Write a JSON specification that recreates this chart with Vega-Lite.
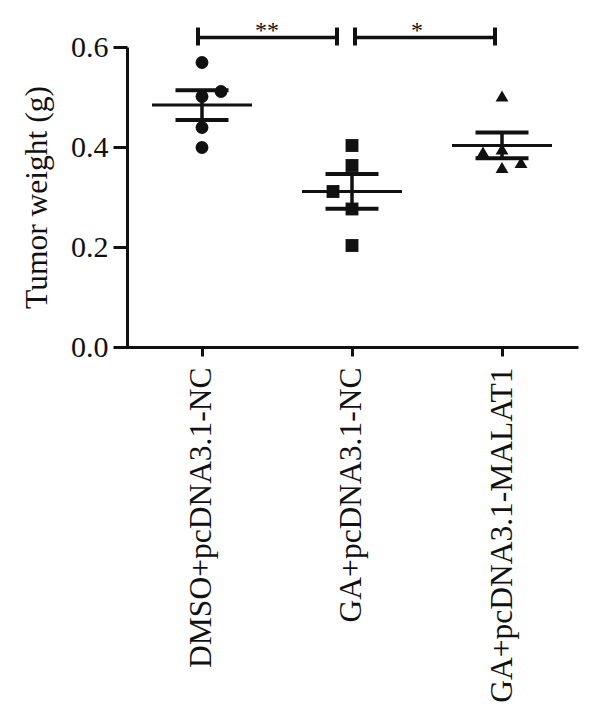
{
  "$schema": "https://vega.github.io/schema/vega-lite/v6.json",
  "width": 460,
  "height": 300,
  "autosize": {"type": "none"},
  "padding": {"left": 118, "top": 47, "right": 22, "bottom": 378},
  "background": "white",
  "config": {
    "view": {"stroke": null},
    "font": "Liberation Serif",
    "tick": {"opacity": 1},
    "axis": {
      "grid": false,
      "labelFont": "Liberation Serif",
      "titleFont": "Liberation Serif",
      "labelColor": "#111",
      "titleColor": "#111",
      "domainColor": "#111",
      "tickColor": "#111",
      "domainWidth": 3,
      "tickWidth": 3,
      "labelFontSize": 30,
      "titleFontSize": 31.5,
      "titleFontWeight": "normal",
      "labelLimit": 0
    }
  },
  "datasets": {
    "points": [
      {"group": "DMSO+pcDNA3.1-NC", "weight": 0.569, "jitter": 0},
      {"group": "DMSO+pcDNA3.1-NC", "weight": 0.511, "jitter": 1},
      {"group": "DMSO+pcDNA3.1-NC", "weight": 0.501, "jitter": 0},
      {"group": "DMSO+pcDNA3.1-NC", "weight": 0.439, "jitter": 0},
      {"group": "DMSO+pcDNA3.1-NC", "weight": 0.399, "jitter": 0},
      {"group": "GA+pcDNA3.1-NC", "weight": 0.403, "jitter": 0},
      {"group": "GA+pcDNA3.1-NC", "weight": 0.363, "jitter": 0},
      {"group": "GA+pcDNA3.1-NC", "weight": 0.311, "jitter": -1},
      {"group": "GA+pcDNA3.1-NC", "weight": 0.276, "jitter": 0},
      {"group": "GA+pcDNA3.1-NC", "weight": 0.203, "jitter": 0},
      {"group": "GA+pcDNA3.1-MALAT1", "weight": 0.502, "jitter": 0},
      {"group": "GA+pcDNA3.1-MALAT1", "weight": 0.390, "jitter": -1},
      {"group": "GA+pcDNA3.1-MALAT1", "weight": 0.396, "jitter": 0},
      {"group": "GA+pcDNA3.1-MALAT1", "weight": 0.359, "jitter": 0},
      {"group": "GA+pcDNA3.1-MALAT1", "weight": 0.369, "jitter": 1}
    ],
    "brackets": [
      {"id": 1, "from": "DMSO+pcDNA3.1-NC", "to": "GA+pcDNA3.1-NC", "label": "**", "y": 0.619, "y_lo": 0.603, "y_hi": 0.639},
      {"id": 2, "from": "GA+pcDNA3.1-NC", "to": "GA+pcDNA3.1-MALAT1", "label": "*", "y": 0.619, "y_lo": 0.603, "y_hi": 0.639}
    ]
  },
  "layer": [
    {
      "data": {"name": "points"},
      "mark": {"type": "point", "filled": true, "opacity": 1, "color": "#111", "size": 165},
      "encoding": {
        "x": {
          "field": "group", "type": "nominal", "title": null,
          "sort": ["DMSO+pcDNA3.1-NC", "GA+pcDNA3.1-NC", "GA+pcDNA3.1-MALAT1"],
          "scale": {"type": "point", "padding": 0.5333, "align": 0.525, "domain": ["DMSO+pcDNA3.1-NC", "GA+pcDNA3.1-NC", "GA+pcDNA3.1-MALAT1"]},
          "axis": {"title": null, "labelAngle": -90, "labelPadding": 11, "tickSize": 9, "labelLimit": 0, "labelFontSize": 31.5}
        },
        "xOffset": {"field": "jitter", "type": "quantitative", "scale": {"domain": [-1, 1], "range": [-19, 19]}},
        "y": {
          "field": "weight", "type": "quantitative", "title": "Tumor weight (g)",
          "scale": {"domain": [0, 0.6], "nice": false},
          "axis": {"title": "Tumor weight (g)", "values": [0, 0.2, 0.4, 0.6], "format": ".1f", "offset": -9, "tickSize": 14, "labelPadding": 5, "titlePadding": 17}
        },
        "shape": {
          "field": "group", "type": "nominal",
          "scale": {"domain": ["DMSO+pcDNA3.1-NC", "GA+pcDNA3.1-NC", "GA+pcDNA3.1-MALAT1"], "range": ["circle", "square", "triangle-up"]},
          "legend": null
        }
      }
    },
    {
      "data": {"name": "points"},
      "mark": {"type": "tick", "color": "#111", "opacity": 1, "size": 100, "thickness": 3, "orient": "horizontal"},
      "encoding": {
        "x": {"field": "group", "type": "nominal", "title": null, "sort": ["DMSO+pcDNA3.1-NC", "GA+pcDNA3.1-NC", "GA+pcDNA3.1-MALAT1"]},
        "y": {"aggregate": "mean", "field": "weight", "type": "quantitative", "title": "Tumor weight (g)"}
      }
    },
    {
      "data": {"name": "points"},
      "mark": {"type": "errorbar", "extent": "stderr", "color": "#111", "ticks": {"size": 53, "thickness": 4, "color": "#111", "opacity": 1}, "rule": {"strokeWidth": 3.5, "color": "#111", "opacity": 1}},
      "encoding": {
        "x": {"field": "group", "type": "nominal", "title": null, "sort": ["DMSO+pcDNA3.1-NC", "GA+pcDNA3.1-NC", "GA+pcDNA3.1-MALAT1"]},
        "y": {"field": "weight", "type": "quantitative", "title": "Tumor weight (g)"}
      }
    },
    {
      "data": {"name": "brackets"},
      "transform": [{"filter": "datum.id == 1"}],
      "layer": [
        {
          "mark": {"type": "rule", "color": "#111", "strokeWidth": 3.5, "xOffset": -4, "x2Offset": -15},
          "encoding": {
            "x": {"field": "from", "type": "nominal", "title": null, "sort": ["DMSO+pcDNA3.1-NC", "GA+pcDNA3.1-NC", "GA+pcDNA3.1-MALAT1"]},
            "x2": {"field": "to"},
            "y": {"field": "y", "type": "quantitative", "title": "Tumor weight (g)"}
          }
        },
        {
          "mark": {"type": "rule", "color": "#111", "strokeWidth": 4, "xOffset": -4},
          "encoding": {
            "x": {"field": "from", "type": "nominal", "title": null, "sort": ["DMSO+pcDNA3.1-NC", "GA+pcDNA3.1-NC", "GA+pcDNA3.1-MALAT1"]},
            "y": {"field": "y_lo", "type": "quantitative", "title": "Tumor weight (g)"},
            "y2": {"field": "y_hi"}
          }
        },
        {
          "mark": {"type": "rule", "color": "#111", "strokeWidth": 4, "xOffset": -15},
          "encoding": {
            "x": {"field": "to", "type": "nominal", "title": null, "sort": ["DMSO+pcDNA3.1-NC", "GA+pcDNA3.1-NC", "GA+pcDNA3.1-MALAT1"]},
            "y": {"field": "y_lo", "type": "quantitative", "title": "Tumor weight (g)"},
            "y2": {"field": "y_hi"}
          }
        }
      ]
    },
    {
      "data": {"name": "brackets"},
      "transform": [{"filter": "datum.id == 2"}],
      "layer": [
        {
          "mark": {"type": "rule", "color": "#111", "strokeWidth": 3.5, "xOffset": 3, "x2Offset": -7},
          "encoding": {
            "x": {"field": "from", "type": "nominal", "title": null, "sort": ["DMSO+pcDNA3.1-NC", "GA+pcDNA3.1-NC", "GA+pcDNA3.1-MALAT1"]},
            "x2": {"field": "to"},
            "y": {"field": "y", "type": "quantitative", "title": "Tumor weight (g)"}
          }
        },
        {
          "mark": {"type": "rule", "color": "#111", "strokeWidth": 4, "xOffset": 3},
          "encoding": {
            "x": {"field": "from", "type": "nominal", "title": null, "sort": ["DMSO+pcDNA3.1-NC", "GA+pcDNA3.1-NC", "GA+pcDNA3.1-MALAT1"]},
            "y": {"field": "y_lo", "type": "quantitative", "title": "Tumor weight (g)"},
            "y2": {"field": "y_hi"}
          }
        },
        {
          "mark": {"type": "rule", "color": "#111", "strokeWidth": 4, "xOffset": -7},
          "encoding": {
            "x": {"field": "to", "type": "nominal", "title": null, "sort": ["DMSO+pcDNA3.1-NC", "GA+pcDNA3.1-NC", "GA+pcDNA3.1-MALAT1"]},
            "y": {"field": "y_lo", "type": "quantitative", "title": "Tumor weight (g)"},
            "y2": {"field": "y_hi"}
          }
        }
      ]
    },
    {
      "data": {"name": "brackets"},
      "mark": {"type": "text", "color": "#111", "fontSize": 24, "align": "center", "baseline": "alphabetic", "dx": 65, "dy": 0},
      "encoding": {
        "x": {"field": "from", "type": "nominal", "title": null, "sort": ["DMSO+pcDNA3.1-NC", "GA+pcDNA3.1-NC", "GA+pcDNA3.1-MALAT1"]},
        "y": {"field": "y", "type": "quantitative", "title": "Tumor weight (g)"},
        "text": {"field": "label"}
      }
    }
  ]
}
